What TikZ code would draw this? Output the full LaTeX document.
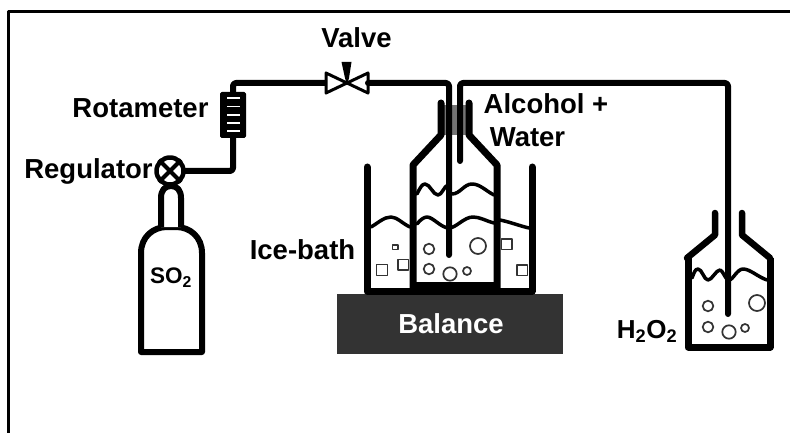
\documentclass[tikz,border=0pt]{standalone}
\usepackage{fontspec}
\setmainfont{Liberation Sans}
\begin{document}
\begin{tikzpicture}[x=1pt,y=-1pt,line join=round,
  pipe/.style={line width=6pt,line cap=round,rounded corners=3pt},
  wall/.style={line width=7pt,line cap=round,line join=round},
  wave/.style={line width=3.5pt,line cap=round},
  bubble/.style={draw=black!80,line width=1.7pt,fill=white},
  lab/.style={font=\fontsize{27.5}{30}\selectfont\bfseries,inner sep=0pt,anchor=center},
  labs/.style={font=\fontsize{22.5}{24}\selectfont\bfseries,inner sep=0pt,anchor=center}]
\useasboundingbox (0,0) rectangle (790,433);
% frame
\draw[line width=3pt,line cap=rect] (8.5,433) -- (8.5,11.5) -- (790,11.5);
% balance
\fill[black!80] (337,294) rectangle (563,354);
\node[lab,text=white] (balance) at (451,324) {Balance};
% named pipe points
\coordinate (valveL) at (326,83);
\coordinate (valveR) at (368,83);
\coordinate (valveC) at (347,83);
\node[circle,draw,line width=4.5pt,minimum size=27pt,inner sep=0pt,fill=white] (reg) at (170,171) {};
\draw[line width=4pt] (reg.north west) -- (reg.south east) (reg.north east) -- (reg.south west);
% cylinder
\draw[line width=6pt,fill=white] (141,352) -- (141,253) .. controls (141,237) and (153,227) .. (167,227) -- (176,227) .. controls (190,227) and (202,237) .. (202,253) -- (202,352) -- cycle;
\draw[line width=6pt,fill=white,line cap=butt] (161,227) -- (161,198) .. controls (161,190) and (165,186) .. (171,186) .. controls (177,186) and (181,190) .. (181,198) -- (181,227);
\node[labs] (so2) at (171,278) {SO\textsubscript{2}};
% rotameter
\draw[pipe] (reg.east) -- (233,171) -- (233,135);
\draw[pipe] (233,94) -- (233,83) -- (valveL);
\draw[black,fill=black,line width=2pt,rounded corners=1pt] (221,93) rectangle (245,137);
\foreach \yy in {98,106.5,115,123,131}{\draw[white,line width=1.8pt] (227,\yy) -- (240,\yy);}
% valve
\draw[line width=3pt,fill=white] (valveL) ++(0,-10) -- (valveC) -- (326,93) -- cycle;
\draw[line width=3pt,fill=white] (valveR) ++(0,-10) -- (valveC) -- (368,93) -- cycle;
\fill (341.5,62) -- (351.5,62) -- (349,78) -- (347,85) -- (345,78) -- cycle;
% labels
\node[lab] (rotameter) at (140.5,108) {Rotameter};
\node[lab] (regulator) at (88.5,171) {Regulator};
\node[lab] (valve) at (356.5,38) {Valve};
\node[lab] (alcohol) at (546,104) {Alcohol +};
\node[lab] (water) at (527.5,137) {Water};
\node[lab] (icebath) at (302.5,250) {Ice-bath};
\node[font=\fontsize{26}{28}\selectfont\bfseries,inner sep=0pt] (h2o2) at (647,331) {H\textsubscript{2}O\textsubscript{2}};
% ice bath
\draw[wall] (367,167) -- (367,291) -- (532,291) -- (532,167);
% flask
\fill[black!55] (443,105) rectangle (467,135);
\draw[wall] (413,290) -- (413,165) -- (441,135) -- (441,103);
\draw[wall] (497,290) -- (497,165) -- (469,135) -- (469,103);
\fill (410,282) rectangle (500,294);
% tubes
\draw[pipe] (valveR) -- (449,83) -- (449,255);
\draw[pipe] (460,161) -- (460,83) -- (728,83) -- (728,314);
% waves
\draw[wave] (417,194) .. controls (420,188) and (422,184) .. (425,184) .. controls (430,184) and (433,195) .. (438,195) .. controls (442,195) and (444,186) .. (448,185);
\draw[wave] (452,194) .. controls (460,194) and (464,184) .. (472,184) .. controls (480,184) and (486,191) .. (494,195);
\draw[wave] (417,224) .. controls (420,220) and (424,217) .. (427,217) .. controls (433,217) and (441,228) .. (449,228) .. controls (456,228) and (464,217) .. (473,217) .. controls (480,217) and (486,221) .. (494,223);
\draw[wave] (371,227) .. controls (378,223) and (384,217) .. (391,217) .. controls (397,217) and (403,224) .. (410,227);
\draw[wave] (500,220) .. controls (510,222) and (520,226) .. (529,228);
% bubbles
\foreach \cx/\cy/\rr in {429/249/5.3,478/246/8,429/269/5.3,450/274/6.7,467/271/4,708/306/5.3,757/303/8,708/327/5.3,729/332/6.7,745/328/4}{
  \draw[bubble] (\cx,\cy) circle (\rr pt);}
% ice cubes
\draw[bubble] (392.5,245) rectangle (398,249.5);
\draw[bubble] (376.5,264.5) rectangle (387.5,275.5);
\draw[bubble] (398,259.5) rectangle (408.5,270);
\draw[bubble] (501.5,239) rectangle (512,249.5);
\draw[bubble] (517,265) rectangle (527.5,275.5);
% right flask
\draw[line width=6.5pt,line cap=round] (715,213) -- (715,235) -- (687,258);
\draw[line width=6.5pt,line cap=round] (742,213) -- (742,235) -- (770,258);
\draw[line width=7pt,line join=round] (688,258) -- (688,347) -- (770,347) -- (770,258);
\draw[wave] (692,278) .. controls (694,273) and (695,269) .. (698,269) .. controls (702,269) and (704,280) .. (708,280) .. controls (712,280) and (716,270) .. (720,270) .. controls (723,270) and (725,280) .. (729,280) .. controls (733,280) and (737,269) .. (743,269) .. controls (750,269) and (758,277) .. (767,280);
\end{tikzpicture}
\end{document}
